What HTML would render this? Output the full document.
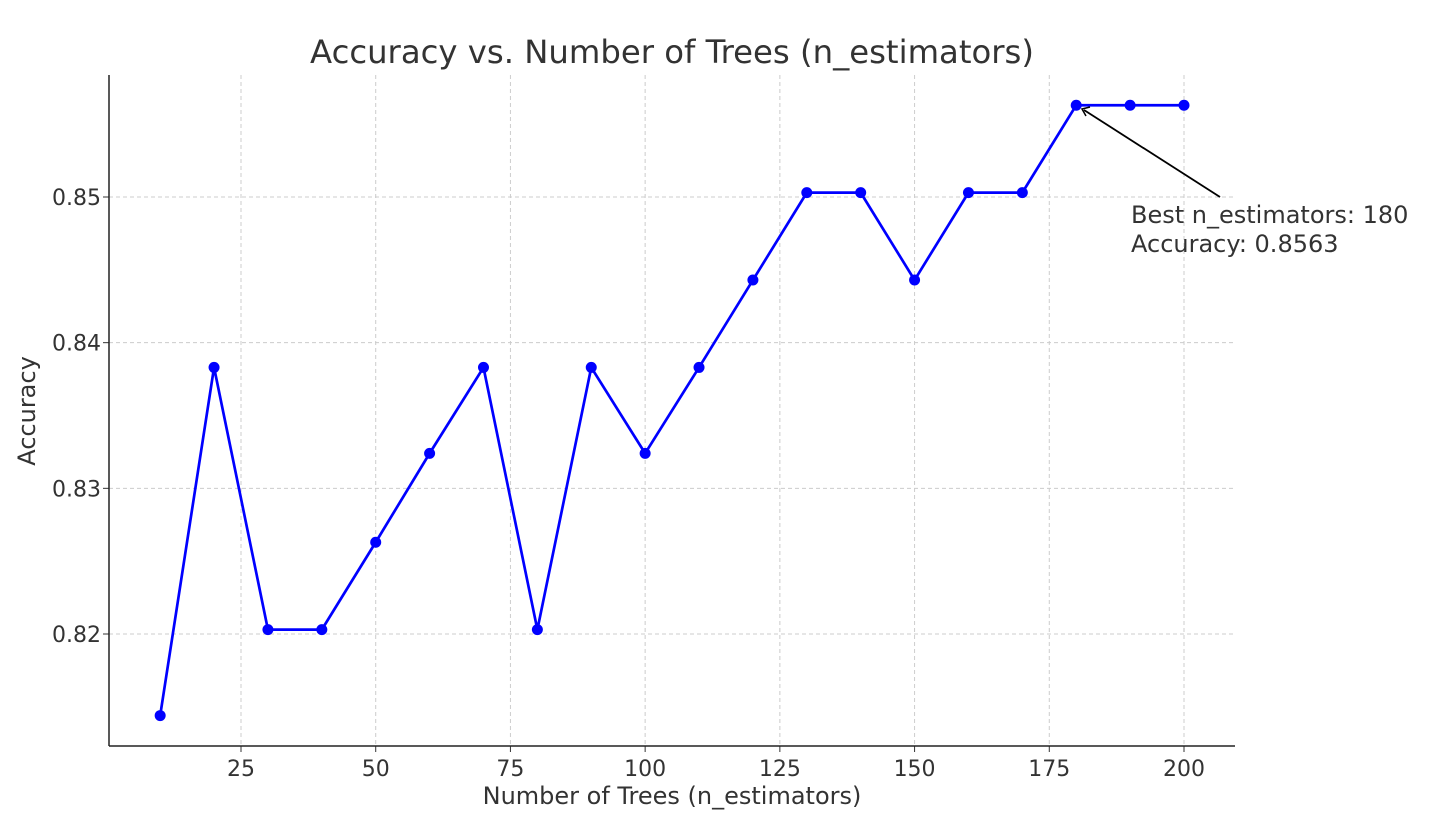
<!DOCTYPE html>
<html><head><meta charset="utf-8"><style>
body{margin:0;background:#fff;}
svg text{font-family:"DejaVu Sans","Liberation Sans",sans-serif;fill:#333;}
</style></head><body>
<svg width="1436" height="822" id="chart">
<text x="672" y="63" font-size="32.3" text-anchor="middle">Accuracy vs. Number of Trees (n_estimators)</text>
<text x="672" y="804" font-size="24" text-anchor="middle">Number of Trees (n_estimators)</text>
<text x="0" y="0" font-size="24" text-anchor="middle" transform="translate(35,411) rotate(-90)">Accuracy</text>
<g id="grid"></g><g id="axes"></g><g id="series"></g>
<g>
<line x1="1220" y1="197" x2="1084" y2="110" stroke="#000" stroke-width="1.8"/>
<polyline points="1090,107 1082,109 1086,116" fill="none" stroke="#000" stroke-width="1.5"/>
<text x="1131" y="223" font-size="24">Best n_estimators: 180</text>
<text x="1131" y="252" font-size="24">Accuracy: 0.8563</text>
</g>
</svg>
<script>
const nTrees=[10,20,30,40,50,60,70,80,90,100,110,120,130,140,150,160,170,180,190,200];
const accuracy=[0.8144,0.8383,0.8203,0.8203,0.8263,0.8324,0.8383,0.8203,0.8383,0.8324,0.8383,0.8443,0.8503,0.8503,0.8443,0.8503,0.8503,0.8563,0.8563,0.8563];
const xTicks=[25,50,75,100,125,150,175,200];
const yTicks=[0.82,0.83,0.84,0.85];
const ns="http://www.w3.org/2000/svg";
const L=109,R=1235,T=75,B=746;
const sx=v=>241+(v-25)*(1184-241)/175;
const sy=v=>634-(v-0.82)*14566.7;
function mk(t,a,p){const e=document.createElementNS(ns,t);for(const k in a)e.setAttribute(k,a[k]);p.appendChild(e);return e;}
const g=document.getElementById('grid'),ax=document.getElementById('axes'),s=document.getElementById('series');
xTicks.forEach(v=>{const x=sx(v);
const l=mk('line',{x1:x,x2:x,y1:T,y2:B,stroke:'#ccc','stroke-dasharray':'4,3'},g);


mk('line',{x1:x,x2:x,y1:B,y2:B+6,stroke:'#333'},ax);
const t=mk('text',{x:x,y:B+30,'font-size':22,'text-anchor':'middle'},ax);t.textContent=v;

});
yTicks.forEach(v=>{const y=sy(v);
const l=mk('line',{x1:L,x2:R,y1:y,y2:y,stroke:'#ccc','stroke-dasharray':'4,3'},g);


mk('line',{x1:L-6,x2:L,y1:y,y2:y,stroke:'#333'},ax);
const t=mk('text',{x:L-8,y:y+8,'font-size':22,'text-anchor':'end'},ax);t.textContent=v.toFixed(2);

});
const yl=mk('line',{x1:L,x2:L,y1:T,y2:B,stroke:'#222','stroke-width':1.5},ax);


const xl=mk('line',{x1:L,x2:R,y1:B,y2:B,stroke:'#222','stroke-width':1.5},ax);


const pl=mk('polyline',{points:nTrees.map((n,i)=>sx(n)+','+sy(accuracy[i])).join(' '),fill:'none',stroke:'#0000ff','stroke-width':2.7},s);


nTrees.forEach((n,i)=>{const c=mk('circle',{cx:sx(n),cy:sy(accuracy[i]),r:5.5,fill:'#0000ff'},s);

});
</script>
</body></html>
